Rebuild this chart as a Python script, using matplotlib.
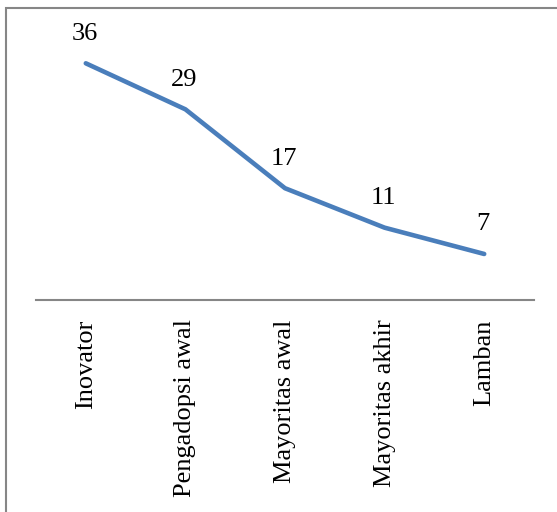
from matplotlib import pyplot as plt
from matplotlib.patches import Rectangle
import numpy as np

plt.rcParams['font.family'] = ['Liberation Serif', 'DejaVu Serif']

categories = ['Inovator', 'Pengadopsi awal', 'Mayoritas awal', 'Mayoritas akhir', 'Lamban']
values = [36, 29, 17, 11, 7]

fig = plt.figure(figsize=(5.57, 5.12), dpi=100)
# outer chart border (cut off on right and bottom)
fig.patches.append(Rectangle((6/557, -0.1), 1.2, 1.1 - 8/512, transform=fig.transFigure,
                             fill=False, edgecolor='#868686', linewidth=1.5))

ax = fig.add_axes([36/557, 1 - 300/512, (534 - 36)/557, (300 - 37)/512])
x = np.arange(len(categories))
ax.plot(x, values, color='#4A7EBB', linewidth=3.3, solid_capstyle='round', solid_joinstyle='round')

for xi, v in zip(x, values):
    ax.annotate(str(v), (xi, v), xytext=(-1, 17), textcoords='offset points',
                ha='center', va='baseline', fontsize=19, color='black')

ax.set_xlim(-0.5, len(categories) - 0.5)
ax.set_ylim(0, 40)
ax.set_xticks(x)
ax.set_xticklabels(categories, rotation=90, fontsize=19, va='top', ha='center')
ax.tick_params(axis='x', length=0, pad=14)
ax.set_yticks([])
for side in ['left', 'top', 'right']:
    ax.spines[side].set_visible(False)
ax.spines['bottom'].set_color('#868686')
ax.spines['bottom'].set_linewidth(1.5)

fig.savefig('out.png', dpi=100)
